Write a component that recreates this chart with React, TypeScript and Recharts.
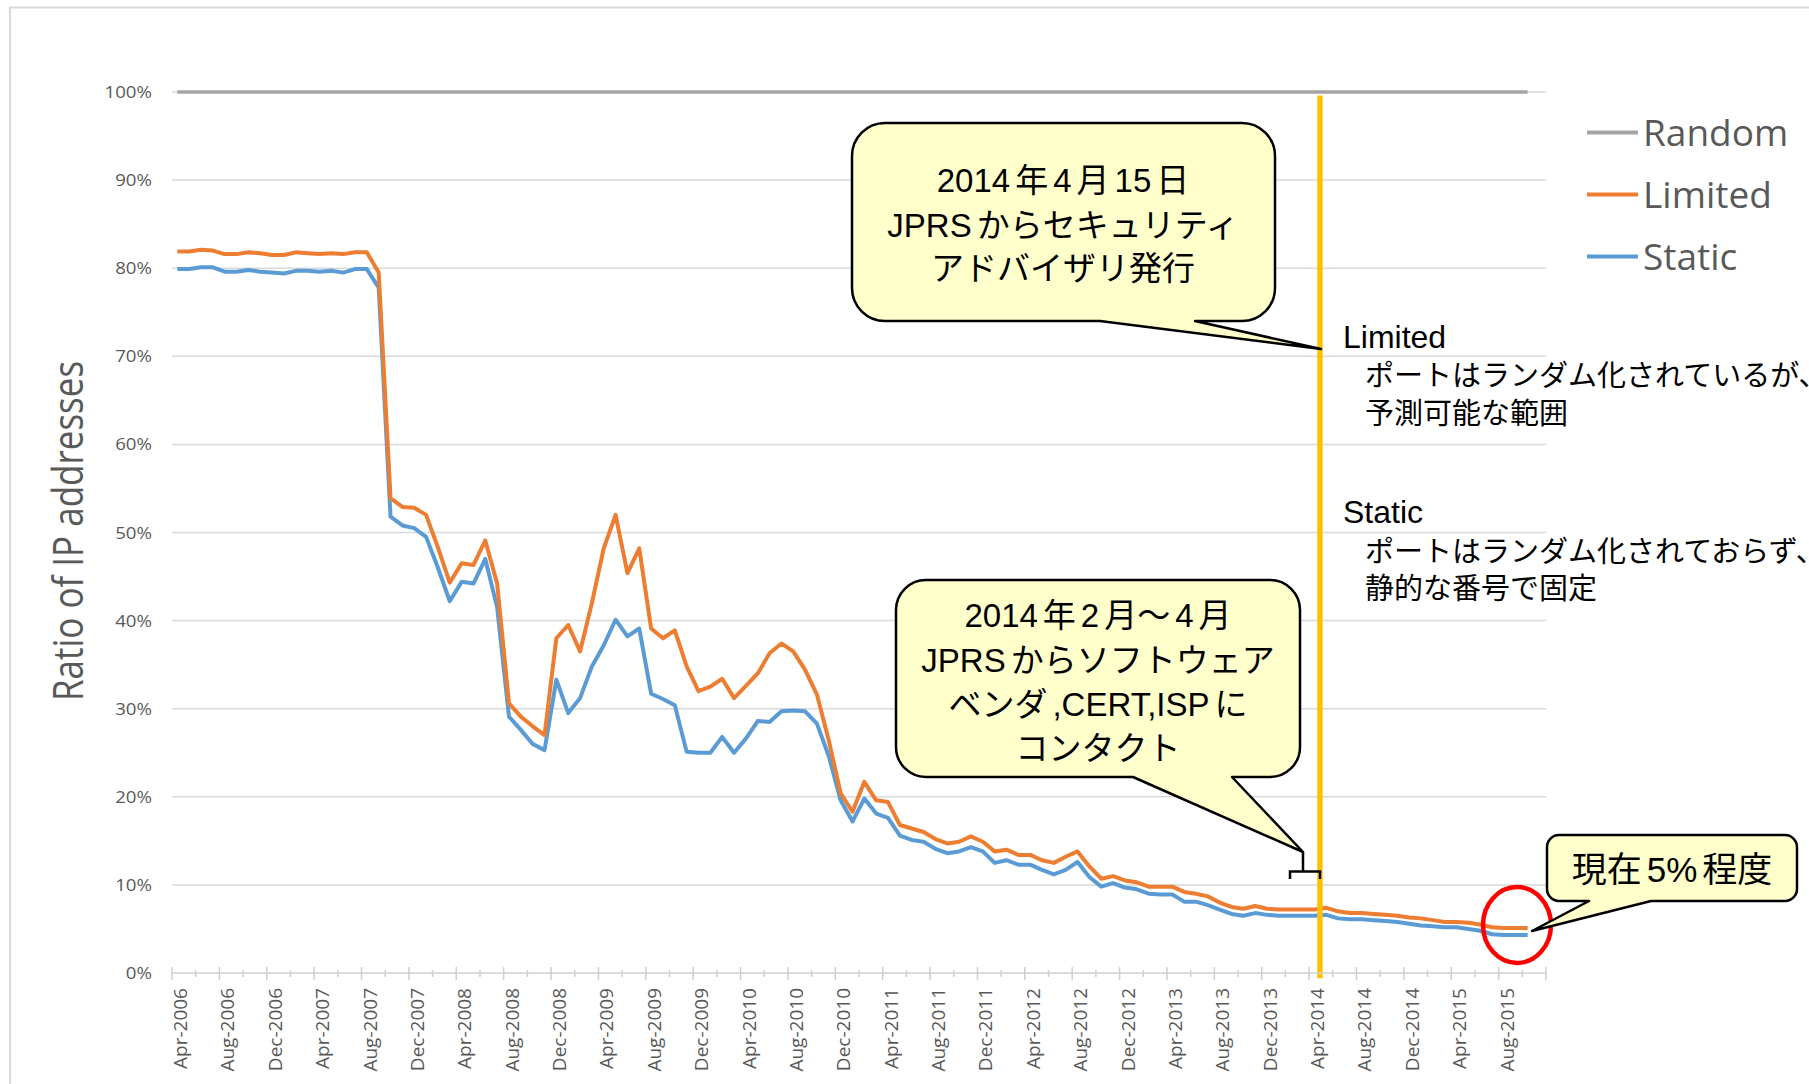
import React from "react";
import { LineChart, Line, XAxis, YAxis, CartesianGrid, ReferenceLine } from "recharts";

// monthly samples, Apr-2006 .. Oct-2015 (index 0 = Apr-2006)
const limited = [
  81.9, 81.9, 82.1, 82.0, 81.6, 81.6, 81.8, 81.7, 81.5, 81.5, 81.8, 81.7, 81.6, 81.7, 81.6, 81.8, 81.8,
  79.5, 53.9, 52.9, 52.8, 52.0, 48.3, 44.3, 46.5, 46.3, 49.1, 44.2, 30.6, 29.1, 28.0, 27.0, 38.0, 39.5,
  36.5, 42.0, 48.2, 52.0, 45.4, 48.2, 39.1, 38.0, 38.9, 34.8, 32.0, 32.5, 33.4, 31.2, 32.6, 34.0, 36.3,
  37.4, 36.5, 34.4, 31.6, 26.4, 20.4, 18.3, 21.7, 19.6, 19.4, 16.8, 16.4, 16.0, 15.2, 14.7, 14.9, 15.5,
  14.9, 13.8, 14.0, 13.4, 13.4, 12.8, 12.5, 13.2, 13.8, 12.1, 10.7, 11.0, 10.5, 10.3, 9.8, 9.8, 9.8,
  9.2, 9.0, 8.7, 8.0, 7.5, 7.3, 7.6, 7.3, 7.2, 7.2, 7.2, 7.2, 7.4, 7.0, 6.8, 6.8, 6.7, 6.6, 6.5, 6.3,
  6.2, 6.0, 5.8, 5.8, 5.7, 5.5, 5.2, 5.1, 5.1, 5.1,
];
const staticSeries = [
  79.9, 79.9, 80.1, 80.1, 79.6, 79.6, 79.8, 79.6, 79.5, 79.4, 79.7, 79.7, 79.6, 79.7, 79.5, 79.9, 79.9,
  77.8, 51.8, 50.8, 50.5, 49.5, 46.0, 42.2, 44.4, 44.2, 47.0, 41.5, 29.1, 27.6, 26.0, 25.3, 33.3, 29.5,
  31.2, 34.8, 37.2, 40.1, 38.2, 39.1, 31.7, 31.1, 30.4, 25.1, 25.0, 25.0, 26.8, 25.0, 26.6, 28.6, 28.5,
  29.7, 29.8, 29.7, 28.3, 24.6, 19.6, 17.2, 19.8, 18.1, 17.6, 15.6, 15.1, 14.9, 14.1, 13.6, 13.8, 14.3,
  13.8, 12.5, 12.8, 12.3, 12.3, 11.7, 11.2, 11.7, 12.6, 10.9, 9.8, 10.2, 9.7, 9.5, 9.0, 8.9, 8.9,
  8.1, 8.1, 7.7, 7.2, 6.7, 6.5, 6.8, 6.6, 6.5, 6.5, 6.5, 6.5, 6.6, 6.2, 6.1, 6.1, 6.0, 5.9, 5.8, 5.6,
  5.4, 5.3, 5.2, 5.2, 5.0, 4.8, 4.4, 4.3, 4.3, 4.3,
];
const random = [
  100, 100, 100, 100, 100, 100, 100, 100, 100, 100, 100, 100, 100, 100, 100, 100, 100, 100, 100, 100,
  100, 100, 100, 100, 100, 100, 100, 100, 100, 100, 100, 100, 100, 100, 100, 100, 100, 100, 100, 100,
  100, 100, 100, 100, 100, 100, 100, 100, 100, 100, 100, 100, 100, 100, 100, 100, 100, 100, 100, 100,
  100, 100, 100, 100, 100, 100, 100, 100, 100, 100, 100, 100, 100, 100, 100, 100, 100, 100, 100, 100,
  100, 100, 100, 100, 100, 100, 100, 100, 100, 100, 100, 100, 100, 100, 100, 100, 100, 100, 100, 100,
  100, 100, 100, 100, 100, 100, 100, 100, 100, 100, 100, 100, 100, 100, 100,
];
const tickLabels = [
  "Apr-2006", "Aug-2006", "Dec-2006", "Apr-2007", "Aug-2007", "Dec-2007", "Apr-2008", "Aug-2008",
  "Dec-2008", "Apr-2009", "Aug-2009", "Dec-2009", "Apr-2010", "Aug-2010", "Dec-2010", "Apr-2011",
  "Aug-2011", "Dec-2011", "Apr-2012", "Aug-2012", "Dec-2012", "Apr-2013", "Aug-2013", "Dec-2013",
  "Apr-2014", "Aug-2014", "Dec-2014", "Apr-2015", "Aug-2015",
];
const yTicks = [0, 10, 20, 30, 40, 50, 60, 70, 80, 90, 100];
const xTicks = [
  0, 2, 4, 6, 8, 10, 12, 14, 16, 18, 20, 22, 24, 26, 28, 30, 32, 34, 36, 38, 40, 42, 44, 46, 48, 50,
  52, 54, 56, 58, 60, 62, 64, 66, 68, 70, 72, 74, 76, 78, 80, 82, 84, 86, 88, 90, 92, 94, 96, 98, 100,
  102, 104, 106, 108, 110, 112, 114, 116,
];
// 2014-04-15 in months from Apr-2006
const advisoryMonth = 96 + 14 / 30;
const sampleOffset = 0.45;

const series = [
  { key: "random", name: "Random", color: "#A5A5A5" },
  { key: "limited", name: "Limited", color: "#ED7D31" },
  { key: "static", name: "Static", color: "#5B9BD5" },
];

const data = limited.map((v, i) => ({
  x: i + sampleOffset,
  random: random[i],
  limited: v,
  static: staticSeries[i],
}));

const AXIS_FONT = "'Open Sans', sans-serif";
const NOTE_FONT = "'Liberation Sans', Arial, 'Noto Sans CJK JP', sans-serif";

function XTick(props: any) {
  const { x, y, payload } = props;
  const v = payload.value as number;
  const major = v % 4 === 0;
  const label = major ? tickLabels[v / 4] : undefined;
  return (
    <g>
      <line x1={x} x2={x} y1={y - (major ? 6 : 3)} y2={y + (major ? 7 : 4)} stroke="#CFCFCF" strokeWidth={1.5} />
      {label && (
        <text transform={`translate(${x + 15},${y + 15}) rotate(-90)`} textAnchor="end"
          fontSize={19} fill="#595959" fontFamily={AXIS_FONT}>{label}</text>
      )}
    </g>
  );
}

function YTick(props: any) {
  const { x, y, payload } = props;
  return (
    <text transform={`translate(${x},${y + 6}) scale(1.1,1)`} textAnchor="end"
      fontSize={17} fill="#595959" fontFamily={AXIS_FONT}>{payload.value}%</text>
  );
}

// adds a small gap between latin and japanese runs, like PowerPoint's autospace
function Spaced({ text }: { text: string }) {
  const runs = text.split(/([\x20-\x7E]+)/).filter((s) => s.length > 0);
  return (
    <>
      {runs.map((r, i) => (
        <tspan key={i} dx={i === 0 ? 0 : 5}>{r}</tspan>
      ))}
    </>
  );
}

function callout(x: number, y: number, w: number, h: number, r: number, b1: number, b2: number, tx: number, ty: number) {
  return `M${x + r},${y} H${x + w - r} A${r},${r} 0 0 1 ${x + w},${y + r} V${y + h - r} A${r},${r} 0 0 1 ${x + w - r},${y + h} ` +
    `H${b2} L${tx},${ty} L${b1},${y + h} H${x + r} A${r},${r} 0 0 1 ${x},${y + h - r} V${y + r} A${r},${r} 0 0 1 ${x + r},${y} Z`;
}

export default function App() {
  const legendOrder = ["random", "limited", "static"];
  return (
    <div style={{ position: "absolute", left: 0, top: 0, width: 1809, height: 1084, background: "#fff", overflow: "hidden" }}>
      <div style={{ position: "absolute", left: 0, top: 0 }}>
        <LineChart width={1809} height={1084} data={data} margin={{ top: 92, right: 263, bottom: 0, left: 0 }}>
          <CartesianGrid vertical={false} stroke="#D9D9D9" strokeWidth={1.5} />
          <XAxis type="number" dataKey="x" domain={[0, 116]} ticks={xTicks} interval={0} height={111}
            tick={<XTick />} tickLine={false} tickSize={0} tickMargin={0} stroke="#D9D9D9" strokeWidth={1.5} />
          <YAxis type="number" domain={[0, 100]} ticks={yTicks} interval={0} width={172}
            tick={<YTick />} axisLine={false} tickLine={false} tickSize={0} tickMargin={20} />
          <Line dataKey="random" name="Random" stroke="#A5A5A5" strokeWidth={3.5} dot={false} activeDot={false} isAnimationActive={false} />
          <Line dataKey="static" name="Static" stroke="#5B9BD5" strokeWidth={4} dot={false} activeDot={false} strokeLinejoin="round" isAnimationActive={false} />
          <Line dataKey="limited" name="Limited" stroke="#ED7D31" strokeWidth={4} dot={false} activeDot={false} strokeLinejoin="round" isAnimationActive={false} />
          <ReferenceLine ifOverflow="visible" stroke="#FFC000" strokeWidth={5.5}
            segment={[{ x: advisoryMonth + sampleOffset, y: 99.6 }, { x: advisoryMonth + sampleOffset, y: -0.6 }]} />
        </LineChart>
      </div>
      <svg width={1809} height={1084} style={{ position: "absolute", left: 0, top: 0, pointerEvents: "none" }}>
        <path d="M10,1084 V7.5 H1809" fill="none" stroke="#D9D9D9" strokeWidth={2} />
        <text transform="translate(83,531) rotate(-90) scale(1,1.2)" textAnchor="middle" fontSize={35}
          fill="#595959" fontFamily={AXIS_FONT}>Ratio of IP addresses</text>

        {legendOrder.map((k, i) => {
          const s = series.find((e) => e.key === k)!;
          const cy = 132.5 + i * 62;
          return (
            <g key={k}>
              <line x1={1587} x2={1638} y1={cy} y2={cy} stroke={s.color} strokeWidth={4} />
              <text x={1643} y={cy + 13} fontSize={37} fill="#595959" fontFamily={AXIS_FONT}>{s.name}</text>
            </g>
          );
        })}

        <g fontFamily={NOTE_FONT} fill="#000">
          <text x={1343} y={348} fontSize={32}>Limited</text>
          <text x={1365} y={386} fontSize={29}>ポートはランダム化されているが、</text>
          <text x={1365} y={424} fontSize={29}>予測可能な範囲</text>
          <text x={1343} y={523} fontSize={32}>Static</text>
          <text x={1365} y={562} fontSize={29}>ポートはランダム化されておらず、</text>
          <text x={1365} y={599} fontSize={29}>静的な番号で固定</text>
        </g>

        <path d={callout(852, 123, 423, 198, 33, 1100, 1195, 1321, 349)} fill="#FFFFCC" stroke="#000" strokeWidth={2.5} strokeLinejoin="round" />
        <g fontFamily={NOTE_FONT} fontSize={33} textAnchor="middle" dominantBaseline="central" fill="#000">
          <text x={1063} y={180}><Spaced text="2014年4月15日" /></text>
          <text x={1063} y={225}><Spaced text="JPRSからセキュリティ" /></text>
          <text x={1063} y={268}>アドバイザリ発行</text>
        </g>

        <path d={callout(896, 580, 404, 197, 30, 1133, 1232, 1303, 852)} fill="#FFFFCC" stroke="#000" strokeWidth={2.5} strokeLinejoin="round" />
        <path d="M1303,852 V871.5 M1290,879 V871.5 H1320 V879" fill="none" stroke="#000" strokeWidth={2.5} />
        <g fontFamily={NOTE_FONT} fontSize={33} textAnchor="middle" dominantBaseline="central" fill="#000">
          <text x={1098} y={615}><Spaced text="2014年2月～4月" /></text>
          <text x={1098} y={660}><Spaced text="JPRSからソフトウェア" /></text>
          <text x={1098} y={704}><Spaced text="ベンダ,CERT,ISPに" /></text>
          <text x={1098} y={748}>コンタクト</text>
        </g>

        <ellipse cx={1517} cy={925} rx={34} ry={38} fill="none" stroke="#FF0000" strokeWidth={4.5} />
        <path d={callout(1547, 835, 250, 66, 12, 1589, 1651, 1532, 931)} fill="#FFFFCC" stroke="#000" strokeWidth={2.5} strokeLinejoin="round" />
        <text x={1672} y={869} fontFamily={NOTE_FONT} fontSize={35} textAnchor="middle" dominantBaseline="central" fill="#000">
          <Spaced text="現在5%程度" />
        </text>
      </svg>
    </div>
  );
}
